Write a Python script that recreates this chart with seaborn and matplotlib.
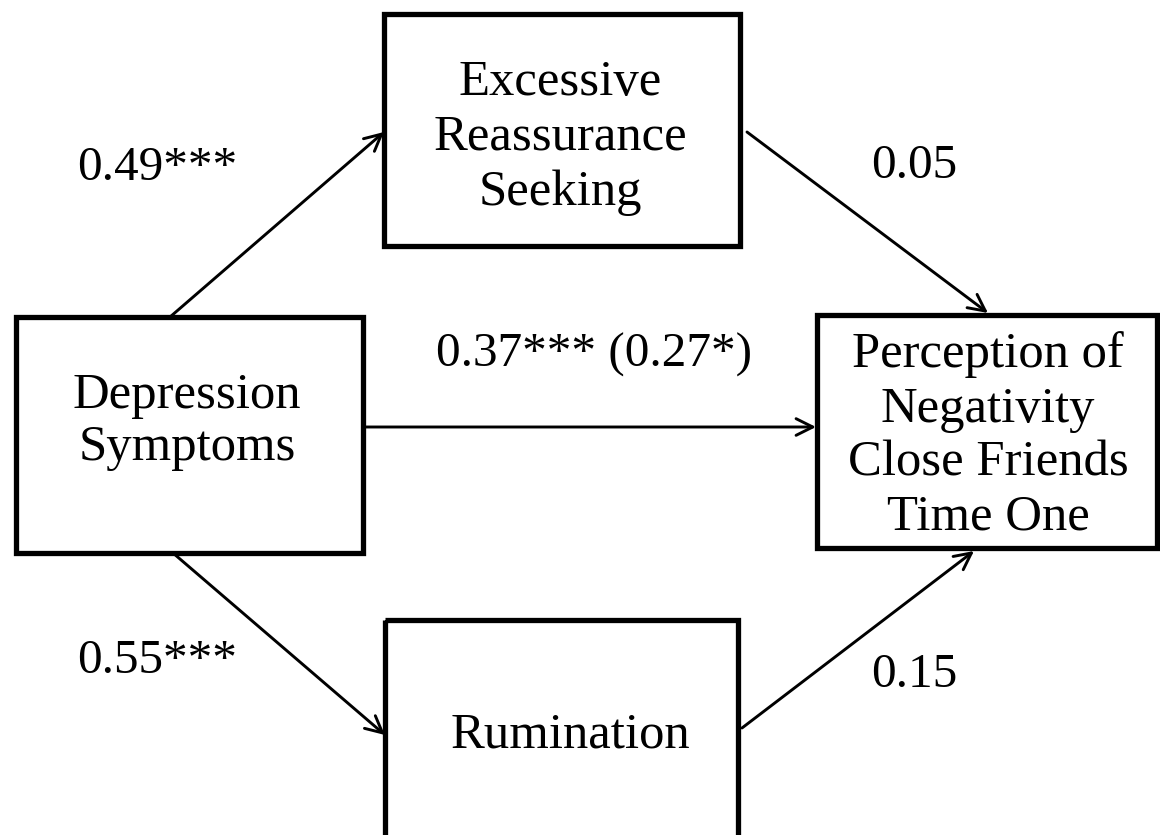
import matplotlib
matplotlib.use("Agg")
import matplotlib.pyplot as plt
from matplotlib.patches import Rectangle
import seaborn as sns

# ---- data ----
node_labels = [
    ["Excessive", "Reassurance", "Seeking"],
    ["Depression", "Symptoms"],
    ["Perception of", "Negativity", "Close Friends", "Time One"],
    ["Rumination"],
]
path_labels = ["0.49***", "0.05", "0.37*** (0.27*)", "0.55***", "0.15"]

# ---- layout (pixel coordinates, y downward) ----
boxes = [  # x0, y0, x1, y1
    (384, 14, 740, 246),
    (16, 317, 363, 553),
    (817, 315, 1157, 548),
    (385, 620, 738, 860),
]
text_x = [560, 187, 988, 570]
text_baselines = [
    [95, 150, 205],
    [408, 460],
    [367, 422, 475, 530],
    [747],
]
arrows = [  # start, end
    ((170, 317), (384, 132)),
    ((747, 132), (988, 313)),
    ((363, 427), (816, 427)),
    ((173, 553), (385, 735)),
    ((742, 728), (974, 551)),
]
label_pos = [  # x, baseline y, ha
    (77, 180, "left"),
    (871, 178, "left"),
    (594, 367, "center"),
    (77, 673, "left"),
    (871, 687, "left"),
]

sns.set_theme(style="white")
plt.rcParams["font.family"] = ["Liberation Serif", "DejaVu Serif"]

fig = plt.figure(figsize=(11.6, 8.35), dpi=100)
ax = fig.add_axes([0, 0, 1, 1])
ax.set_xlim(0, 1160)
ax.set_ylim(835, 0)
ax.axis("off")
fs_box = 36.5
fs_lab = 35.5

for (x0, y0, x1, y1) in boxes:
    ax.add_patch(Rectangle((x0, y0), x1 - x0, y1 - y0, fill=False,
                           edgecolor="black", linewidth=3.8, joinstyle="miter"))

for lines, cx, bls in zip(node_labels, text_x, text_baselines):
    for line, by in zip(lines, bls):
        ax.text(cx, by, line, ha="center", va="baseline", fontsize=fs_box,
                color="black")

for (s, e) in arrows:
    ax.annotate("", xy=e, xytext=s,
                arrowprops=dict(arrowstyle="->", color="black", lw=2.1,
                                mutation_scale=30, shrinkA=0, shrinkB=0))

for lab, (x, y, ha) in zip(path_labels, label_pos):
    ax.text(x, y, lab, ha=ha, va="baseline", fontsize=fs_lab, color="black")

fig.savefig("out.png", dpi=100, facecolor="white")
